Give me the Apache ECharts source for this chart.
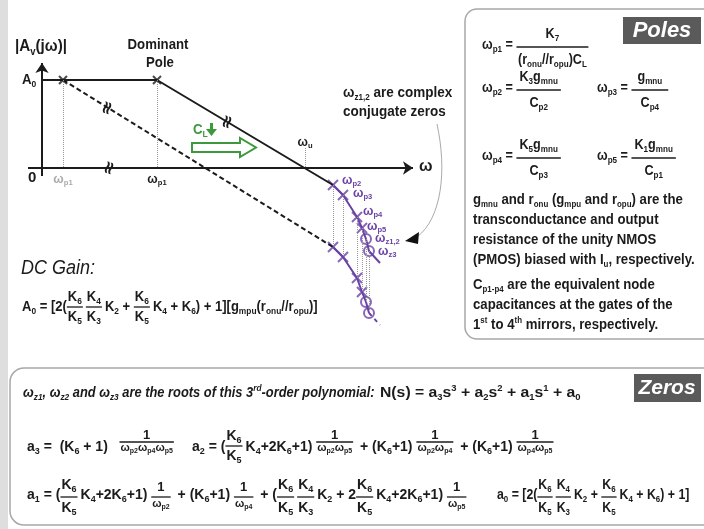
<!DOCTYPE html>
<html lang="en">
<head>
<meta charset="UTF-8" />
<title>Bode plot</title>
<style>
  body { margin: 0; padding: 0; background: #fff; }
  .chart { width: 704px; height: 529px; }
</style>
</head>
<body>
<div class="chart"></div>
<script src="https://cdn.jsdelivr.net/npm/echarts@6.0.0/dist/echarts.min.js"></script>
<script>
// values: x = log(omega), y = gain (arbitrary units)
const gainA0 = 88;
const wp1Dominant = 115;
const wp1Shifted = 21;
const wuX = 263;
const wuTop = 20;
const polesX = [291, 301, 315, 320];
const zerosX = [324, 327];
const polesUpperY = [-17, -27, -49, -60];
const zerosUpperY = [-71, -83];
const polesLowerY = [-79, -89, -110, -124];
const zerosLowerY = [-134, -145];
const endX = 338;
const endUpperY = -95;
const endLowerY = -157;
const poleNames = ['ω_{p2}', 'ω_{p3}', 'ω_{p4}', 'ω_{p5}'];
const zeroNames = ['ω_{z1,2}', 'ω_{z3}'];

const black = '#1b1b1b', purple = '#6a42a5', green = '#3c9a3c';

const upper = polesX.map((x, i) => [x, polesUpperY[i]]).concat(zerosX.map((x, i) => [x, zerosUpperY[i]]));
const lower = polesX.map((x, i) => [x, polesLowerY[i]]).concat(zerosX.map((x, i) => [x, zerosLowerY[i]]));

const cross = 'path://M0,0L10,10M10,0L0,10';

// ---- text helpers (subscripts a_{b}, superscripts a^{b}, fractions) ----
// no narrow font installed, so text is squeezed with scaleX (cond)
const FAM = '"Liberation Sans", Arial, sans-serif';
const meas = document.createElement('canvas').getContext('2d');
function fontOf(size, italic) { return (italic ? 'italic ' : '') + 'bold ' + size + 'px ' + FAM; }
function textWidth(t, size, italic) { meas.font = fontOf(size, italic); return meas.measureText(t).width; }
function parts(s) {
  const out = []; const re = /([_^])\{([^}]*)\}/g; let last = 0, m;
  while ((m = re.exec(s))) {
    if (m.index > last) out.push({ t: s.slice(last, m.index), k: 'n' });
    out.push({ t: m[2], k: m[1] === '_' ? 'sub' : 'sup' });
    last = re.lastIndex;
  }
  if (last < s.length) out.push({ t: s.slice(last), k: 'n' });
  return out;
}
function subSize(size) { return Math.round(size * 0.62); }
function richWidth(s, size, italic, cond) {
  let w = 0;
  for (const p of parts(s)) w += textWidth(p.t, p.k === 'n' ? size : subSize(size), italic);
  return w * (cond || 1);
}
function putRich(els, s, x, y, size, color, italic, cond) {
  cond = cond || 1;
  let cx = x;
  for (const p of parts(s)) {
    const fs = p.k === 'n' ? size : subSize(size);
    const dy = p.k === 'sub' ? size * 0.3 : (p.k === 'sup' ? -size * 0.3 : 0);
    els.push({
      type: 'text', x: cx, y: y + dy, scaleX: cond, silent: true,
      style: { text: p.t, font: fontOf(fs, italic), fill: color, align: 'left', verticalAlign: 'middle', textAlign: 'left', textVerticalAlign: 'middle' }
    });
    cx += textWidth(p.t, fs, italic) * cond;
  }
  return cx - x;
}
function putCentered(els, s, cx, y, size, color, cond) {
  putRich(els, s, cx - richWidth(s, size, false, cond) / 2, y, size, color, false, cond);
}
function putFormula(els, items, x, y, o) {
  let cx = x;
  const c = o.cond || 1;
  for (const it of items) {
    if (typeof it === 'string') { cx += putRich(els, it, cx, y, o.size, black, false, c); continue; }
    const q = Object.assign({}, o, it);
    const wn = richWidth(q.n, q.fn, false, c), wd = richWidth(q.d, q.fd, false, c);
    const w = Math.max(wn, wd) + q.pad;
    const ly = y + q.lo;
    putRich(els, q.n, cx + (w - wn) / 2, ly + q.no, q.fn, black, false, c);
    putRich(els, q.d, cx + (w - wd) / 2, ly + q.do, q.fd, black, false, c);
    els.push({ type: 'line', silent: true, shape: { x1: cx, y1: ly, x2: cx + w, y2: ly }, style: { stroke: black, lineWidth: 1.3 } });
    cx += w + q.gap;
  }
  return cx - x;
}

const chart = echarts.init(document.querySelector('.chart'), null, { renderer: 'canvas' });

const option = {
  animation: false,
  backgroundColor: '#fff',
  grid: { left: 22, top: 50, width: 400, height: 288 },
  xAxis: { type: 'value', min: -20, max: 380, show: false },
  yAxis: { type: 'value', min: -170, max: 118, show: false },
  series: [
    {
      type: 'line', symbol: 'none', silent: true,
      data: [[0, gainA0], [wp1Dominant, gainA0], upper[0]],
      lineStyle: { color: black, width: 2 }
    },
    {
      type: 'line', symbol: 'none', silent: true,
      data: [[wp1Shifted, gainA0], lower[0]],
      lineStyle: { color: black, width: 2, type: [5, 3] }
    },
    {
      type: 'line', symbol: 'none', silent: true,
      data: upper.concat([[endX, endUpperY]]),
      lineStyle: { color: purple, width: 2 }
    },
    {
      type: 'line', symbol: 'none', silent: true,
      data: lower,
      lineStyle: { color: purple, width: 2 }
    },
    {
      type: 'line', symbol: 'none', silent: true,
      data: [lower[lower.length - 1], [endX, endLowerY]],
      lineStyle: { color: purple, width: 2, type: [4, 4] }
    },
    {
      type: 'scatter', symbol: cross, symbolSize: 8, silent: true,
      data: [[wp1Shifted, gainA0], [wp1Dominant, gainA0]],
      itemStyle: { color: 'transparent', borderColor: black, borderWidth: 2 }
    },
    {
      type: 'scatter', symbol: cross, symbolSize: 10, silent: true,
      data: upper.slice(0, polesX.length).concat(lower.slice(0, polesX.length)),
      itemStyle: { color: 'transparent', borderColor: purple, borderWidth: 2 }
    },
    {
      type: 'scatter', symbol: 'circle', symbolSize: 10, silent: true,
      data: upper.slice(polesX.length).concat(lower.slice(polesX.length)),
      itemStyle: { color: 'transparent', borderColor: purple, borderWidth: 2 }
    },
    {
      // axes
      type: 'line', data: [], silent: true,
      markLine: {
        silent: true, symbol: ['none', 'arrow'], symbolSize: 10, animation: false,
        label: { show: false },
        lineStyle: { color: black, width: 2, type: 'solid' },
        data: [
          [{ coord: [-14, 0] }, { coord: [371, 0] }],
          [{ coord: [0, -8] }, { coord: [0, 105] }]
        ]
      }
    },
    {
      // dotted guides
      type: 'line', data: [], silent: true,
      markLine: {
        silent: true, symbol: 'none', animation: false,
        label: { show: false },
        lineStyle: { color: '#999', width: 1, type: 'dotted' },
        data: [
          [{ coord: [wp1Shifted, gainA0] }, { coord: [wp1Shifted, 0] }],
          [{ coord: [wp1Dominant, gainA0] }, { coord: [wp1Dominant, 0] }],
          [{ coord: [wuX, wuTop] }, { coord: [wuX, 0] }]
        ].concat(upper.map((p, i) => [{ coord: p }, { coord: lower[i] }]))
      }
    }
  ]
};
chart.setOption(option);

// ---- graphic layer ----
const els = [];
const px = p => chart.convertToPixel({ gridIndex: 0 }, p);

// frames
els.push({ type: 'rect', shape: { x: 0, y: 0, width: 8, height: 529 }, style: { fill: '#dedede' }, silent: true });
els.push({ type: 'rect', shape: { x: 465, y: 9, width: 270, height: 330, r: 12 }, style: { fill: 'none', stroke: '#a8a8a8', lineWidth: 1.5 }, silent: true });
els.push({ type: 'rect', shape: { x: 10, y: 368, width: 730, height: 157, r: 14 }, style: { fill: 'none', stroke: '#a8a8a8', lineWidth: 1.5 }, silent: true });
els.push({ type: 'rect', shape: { x: 623, y: 17, width: 78, height: 27 }, style: { fill: '#5a5a5a' }, silent: true });
els.push({ type: 'text', x: 662, y: 31, silent: true, style: { text: 'Poles', font: 'italic bold 22px "Liberation Sans", Arial, sans-serif', fill: '#fff', align: 'center', verticalAlign: 'middle', textAlign: 'center', textVerticalAlign: 'middle' } });
els.push({ type: 'rect', shape: { x: 634, y: 374, width: 67, height: 28 }, style: { fill: '#5a5a5a' }, silent: true });
els.push({ type: 'text', x: 667, y: 388, silent: true, style: { text: 'Zeros', font: 'italic bold 21px "Liberation Sans", Arial, sans-serif', fill: '#fff', align: 'center', verticalAlign: 'middle', textAlign: 'center', textVerticalAlign: 'middle' } });

// plot labels
putRich(els, '|A_{v}(jω)|', 15, 47, 16, black, false, 0.95);
putCentered(els, 'Dominant', 158, 45, 15, black, 0.88);
putCentered(els, 'Pole', 160, 63, 15, black, 0.88);
const pA0 = px([0, gainA0]);
putRich(els, 'A_{0}', 22, pA0[1], 14, black, false, 0.95);
const p0 = px([0, 0]);
putRich(els, '0', 28, p0[1] + 10, 15, black);
putCentered(els, 'ω_{p1}', px([wp1Shifted, 0])[0], p0[1] + 11, 13, '#aaaaaa', 0.95);
putCentered(els, 'ω_{p1}', px([wp1Dominant, 0])[0], p0[1] + 11, 13, black, 0.95);
putCentered(els, 'ω_{u}', px([wuX, 0])[0], px([wuX, wuTop])[1] - 6, 13, black, 0.95);
putRich(els, 'ω', px([371, 0])[0] + 6, p0[1] - 1, 16, black);
putRich(els, 'ω_{z1,2} are complex', 343, 93, 15, black, false, 0.9);
putRich(els, 'conjugate zeros', 343, 112, 15, black, false, 0.9);

const labelOffsets = [[9, -5], [10, -2], [6, -6], [5, -2], [9, -1], [9, 0]];
poleNames.concat(zeroNames).forEach((name, i) => {
  const p = px(upper[i]);
  putRich(els, name, p[0] + labelOffsets[i][0], p[1] + labelOffsets[i][1], 13, purple, false, 0.95);
});

// break marks
[[68, 0], [66, 60], [186, 46]].forEach(c => {
  const p = px(c);
  els.push({ type: 'text', x: p[0], y: p[1], rotation: 1.25, silent: true, style: { text: '≈', font: 'bold 18px "DejaVu Sans", sans-serif', fill: black, align: 'center', verticalAlign: 'middle', textAlign: 'center', textVerticalAlign: 'middle' } });
});

// load capacitance arrow
putRich(els, 'C_{L}', 193, 130, 14, green, false, 0.95);
els.push({ type: 'polygon', silent: true, shape: { points: [[210, 123], [213, 123], [213, 129], [217, 129], [211.5, 136], [206, 129], [210, 129]] }, style: { fill: green } });
els.push({ type: 'polygon', silent: true, shape: { points: [[192, 143], [240, 143], [240, 138], [256, 147.5], [240, 157], [240, 152], [192, 152]] }, style: { fill: '#fff', stroke: green, lineWidth: 2 } });

// pointer to the complex zeros
els.push({ type: 'bezierCurve', silent: true, shape: { x1: 437, y1: 124, cpx1: 447, cpy1: 170, cpx2: 442, cpy2: 218, x2: 417, y2: 237 }, style: { stroke: '#aaa', lineWidth: 1, fill: 'none' } });
els.push({ type: 'polygon', silent: true, shape: { points: [[405, 241], [419, 232], [418, 244]] }, style: { fill: '#111' } });

// DC gain
els.push({ type: 'text', x: 21, y: 268, scaleX: 0.9, silent: true, style: { text: 'DC Gain:', font: 'italic 20px "Liberation Sans", Arial, sans-serif', fill: black, align: 'left', verticalAlign: 'middle', textAlign: 'left', textVerticalAlign: 'middle' } });
const K65 = { n: 'K_{6}', d: 'K_{5}' };
const K43 = { n: 'K_{4}', d: 'K_{3}' };
putFormula(els, ['A_{0} = [2(', K65, K43, 'K_{2} + ', K65, 'K_{4} + K_{6}) + 1][g_{mpu}(r_{onu}//r_{opu})]'], 22, 307,
  { size: 14, fn: 14, fd: 14, lo: 0, no: -10, do: 10, pad: 2, gap: 3, cond: 0.93 });

// poles box
const pf = { size: 14, fn: 14, fd: 14, lo: 2, no: -13, do: 13, pad: 6, gap: 2, cond: 0.9 };
putFormula(els, ['ω_{p1} = ', { n: 'K_{7}', d: '(r_{onu}//r_{opu})C_{L}', pad: 3 }], 482, 45, pf);
putFormula(els, ['ω_{p2} = ', { n: 'K_{3}g_{mnu}', d: 'C_{p2}' }], 482, 88, pf);
putFormula(els, ['ω_{p3} = ', { n: 'g_{mnu}', d: 'C_{p4}', pad: 12 }], 597, 88, pf);
putFormula(els, ['ω_{p4} = ', { n: 'K_{5}g_{mnu}', d: 'C_{p3}' }], 482, 156, pf);
putFormula(els, ['ω_{p5} = ', { n: 'K_{1}g_{mnu}', d: 'C_{p1}' }], 597, 156, pf);

const notes = [
  'g_{mnu} and r_{onu} (g_{mpu} and r_{opu}) are the',
  'transconductance and output',
  'resistance of the unity NMOS',
  '(PMOS) biased with I_{u}, respectively.'
];
notes.forEach((t, i) => putRich(els, t, 473, 200 + i * 20, 15, black, false, 0.88));
const notes2 = [
  'C_{p1-p4} are the equivalent node',
  'capacitances at the gates of the',
  '1^{st} to 4^{th} mirrors, respectively.'
];
notes2.forEach((t, i) => putRich(els, t, 473, 285 + i * 20, 15, black, false, 0.88));

// zeros box
putRich(els, 'ω_{z1}, ω_{z2} and ω_{z3} are the roots of this 3^{rd}-order polynomial:', 23, 393, 14, black, true, 0.92);
putRich(els, 'N(s) = a_{3}s^{3} + a_{2}s^{2} + a_{1}s^{1} + a_{0}', 380, 393, 15, black, false, 1.05);

const zf1 = { size: 14, fn: 14, fd: 14, lo: -1, no: -10, do: 10, pad: 2, gap: 3 };
const inv1 = d => ({ n: '1', d: d, fn: 13, fd: 11, lo: -5, no: -7, do: 6, pad: 2, gap: 3 });
putFormula(els, ['a_{3} =  (K_{6} + 1)   ', inv1('ω_{p2}ω_{p4}ω_{p5}')], 27, 447, zf1);
putFormula(els, ['a_{2} = (', K65, 'K_{4}+2K_{6}+1) ', inv1('ω_{p2}ω_{p5}'), ' + (K_{6}+1) ', inv1('ω_{p2}ω_{p4}'), ' + (K_{6}+1) ', inv1('ω_{p4}ω_{p5}')], 192, 447, zf1);

const zf2 = { size: 14, fn: 14, fd: 14, lo: 2, no: -12, do: 11, pad: 2, gap: 3 };
const inv2 = d => ({ n: '1', d: d, fn: 13, fd: 11, lo: 2, no: -10, do: 7, pad: 2, gap: 3 });
putFormula(els, ['a_{1} = (', K65, 'K_{4}+2K_{6}+1) ', inv2('ω_{p2}'), ' + (K_{6}+1) ', inv2('ω_{p4}'), ' + (', K65, K43, 'K_{2} + 2', K65, 'K_{4}+2K_{6}+1) ', inv2('ω_{p5}')], 27, 495, zf2);
putFormula(els, ['a_{0} = [2(', K65, K43, 'K_{2} + ', K65, 'K_{4} + K_{6}) + 1]'], 497, 495, Object.assign({}, zf2, { cond: 0.88 }));

chart.setOption({ graphic: { elements: els } });
</script>
</body>
</html>
